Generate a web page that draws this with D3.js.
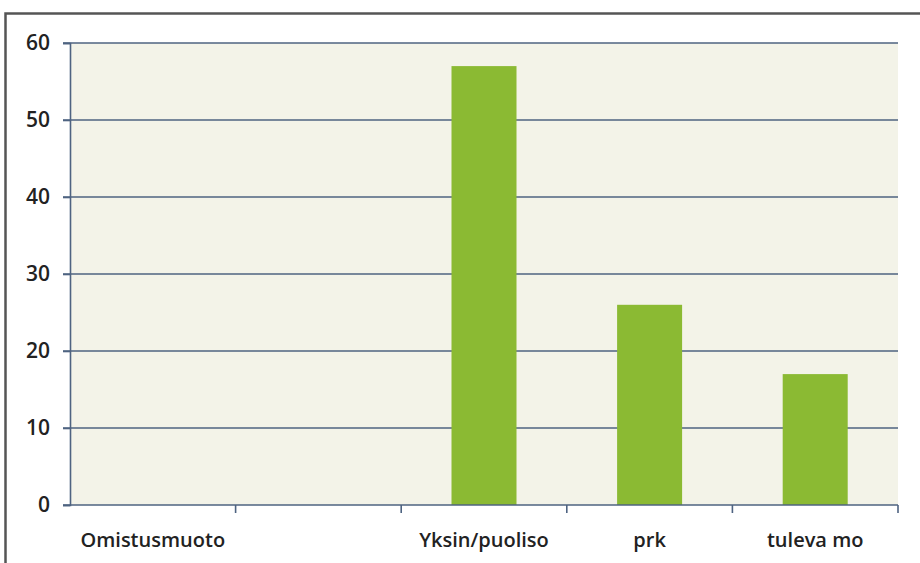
<!DOCTYPE html>
<html>
<head>
<meta charset="utf-8">
<script src="https://cdn.jsdelivr.net/npm/d3@7"></script>
<style>
  body { margin: 0; background: #fff; }
  text { font-family: "Open Sans", sans-serif; font-weight: 600; fill: #222; }
</style>
</head>
<body>
<div id="chart"></div>
<script>
// data
var categories = ["Omistusmuoto", "", "Yksin/puoliso", "prk", "tuleva mo"];
var values = [0, 0, 57, 26, 17];
var yTicks = [0, 10, 20, 30, 40, 50, 60];

var W = 920, H = 563;
var margin = {top: 43, right: 22, bottom: 58, left: 70},
    width = W - margin.left - margin.right,
    height = H - margin.top - margin.bottom;

var svg = d3.select("#chart").append("svg")
    .attr("width", W)
    .attr("height", H);

// outer frame (only top and left edges show in the picture)
svg.append("path")
    .attr("d", "M5.5," + H + "V13.5H" + W)
    .attr("fill", "none")
    .attr("stroke", "#555")
    .attr("stroke-width", 2.5);

var g = svg.append("g")
    .attr("transform", "translate(" + margin.left + "," + margin.top + ")");

var x = d3.scaleBand().domain(d3.range(categories.length)).range([0, width]);
var y = d3.scaleLinear().domain([0, 60]).range([height, 0]);
var barW = 65;

// plot background
g.append("rect")
    .attr("width", width)
    .attr("height", height)
    .attr("fill", "#f3f3e8");

// grid lines
g.selectAll(".grid").data(yTicks.slice(1)).enter().append("line")
    .attr("x1", -7).attr("x2", width)
    .attr("y1", function (d) { return y(d); })
    .attr("y2", function (d) { return y(d); })
    .attr("stroke", "#4e6381")
    .attr("stroke-width", 1.6);

// bars
g.selectAll(".bar").data(values).enter().append("rect")
    .attr("x", function (d, i) { return x(i) + (x.bandwidth() - barW) / 2; })
    .attr("width", barW)
    .attr("y", function (d) { return y(d); })
    .attr("height", function (d) { return height - y(d); })
    .attr("fill", "#8bba33");

// y axis
var axisY = g.append("g").call(d3.axisLeft(y).tickValues(yTicks).tickSize(7).tickPadding(13));
axisY.select(".domain").attr("stroke", "#4e6381").attr("stroke-width", 1.6);
axisY.selectAll(".tick line").attr("stroke", "#4e6381").attr("stroke-width", 1.6);
axisY.selectAll("text").style("font-size", "21px").attr("fill", "#222");

// x axis: ticks at the category boundaries
var axisX = g.append("g").attr("transform", "translate(0," + height + ")");
axisX.append("line")
    .attr("x1", -7).attr("x2", width)
    .attr("stroke", "#4e6381").attr("stroke-width", 1.6);
axisX.selectAll(".xt").data(d3.range(1, categories.length + 1)).enter().append("line")
    .attr("x1", function (d) { return d * x.step(); })
    .attr("x2", function (d) { return d * x.step(); })
    .attr("y1", 0).attr("y2", 8)
    .attr("stroke", "#4e6381").attr("stroke-width", 1.6);
axisX.selectAll(".xl").data(categories).enter().append("text")
    .attr("x", function (d, i) { return x(i) + x.bandwidth() / 2; })
    .attr("y", 42)
    .attr("text-anchor", "middle")
    .style("font-size", "20px")
    .text(function (d) { return d; });
</script>
</body>
</html>
